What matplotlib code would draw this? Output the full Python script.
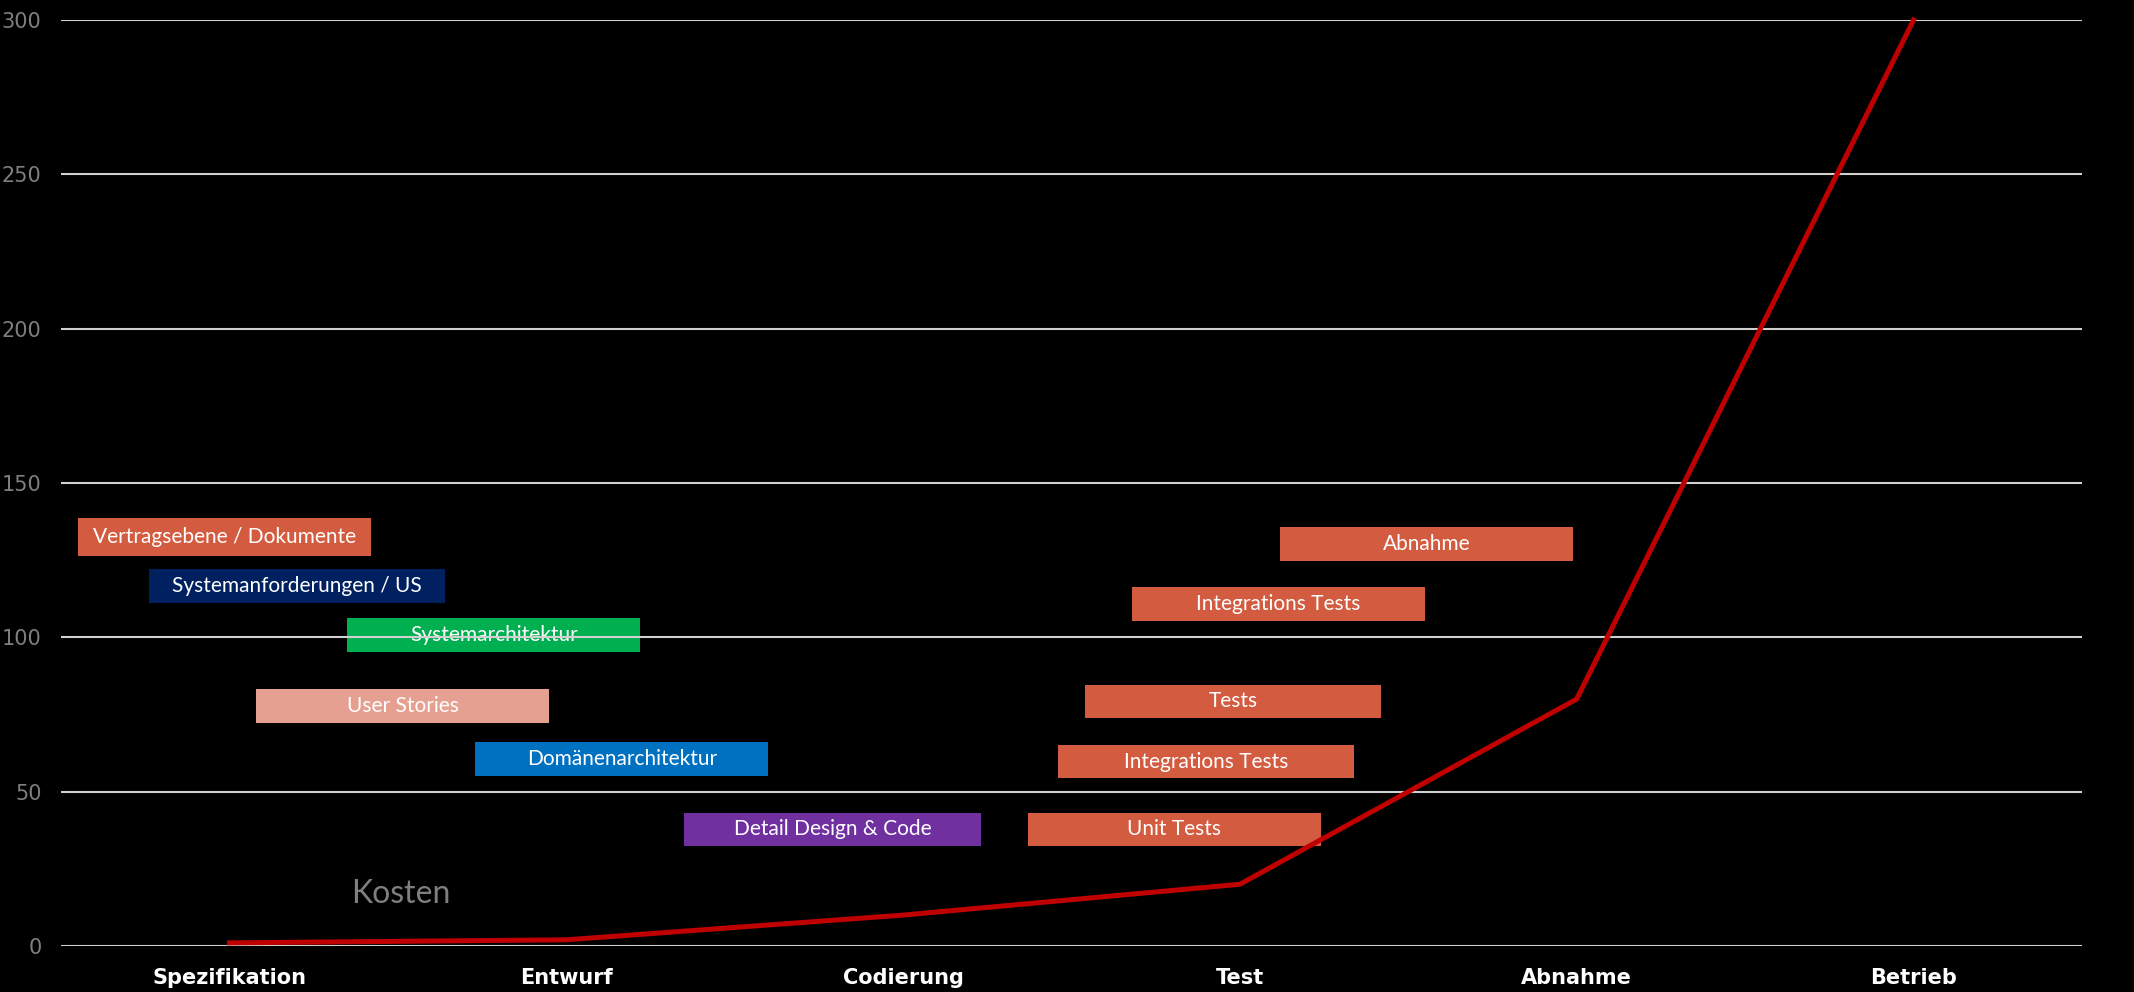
import matplotlib
matplotlib.use("Agg")
import matplotlib.pyplot as plt

# phases on the x axis and the cost curve
phases = ["Spezifikation", "Entwurf", "Codierung", "Test", "Abnahme", "Betrieb"]
kosten = [1, 2, 10, 20, 80, 300]
y_ticks = [0, 50, 100, 150, 200, 250, 300]

# activity boxes (x in phase units, y in cost units)
box_labels = ["Vertragsebene / Dokumente", "Systemanforderungen / US", "Systemarchitektur",
              "User Stories", "Domänenarchitektur", "Detail Design & Code",
              "Unit Tests", "Integrations Tests", "Tests", "Integrations Tests", "Abnahme"]
box_start = [-0.45, -0.24, 0.35, 0.08, 0.73, 1.35, 2.37, 2.46, 2.54, 2.68, 3.12]
box_end = [0.42, 0.64, 1.22, 0.95, 1.60, 2.23, 3.24, 3.34, 3.42, 3.55, 3.99]
box_low = [126.5, 111.0, 95.3, 72.3, 55.1, 32.3, 32.3, 54.3, 74.0, 105.3, 124.8]
box_high = [138.8, 122.0, 106.2, 83.3, 66.1, 43.2, 43.2, 65.2, 84.6, 116.3, 135.7]
box_colors = ["#D35B40", "#002060", "#00B050", "#E6A091", "#0070C0", "#7030A0",
              "#D35B40", "#D35B40", "#D35B40", "#D35B40", "#D35B40"]

fig = plt.figure(figsize=(21.34, 9.92), dpi=100, facecolor="black")
ax = fig.add_axes([0.0286, 0.0464, 0.947, 0.9334])
ax.set_facecolor("black")

x = list(range(len(phases)))

# boxes
widths = [e - s for s, e in zip(box_start, box_end)]
heights = [h - l for l, h in zip(box_low, box_high)]
ax.bar(box_start, heights, width=widths, bottom=box_low, align="edge",
       color=box_colors, zorder=1)
for lab, s, e, l, h in zip(box_labels, box_start, box_end, box_low, box_high):
    ax.text((s + e) / 2, (l + h) / 2, lab, ha="center", va="center",
            color="white", fontsize=15, family="Lato", zorder=1.5)

# cost curve
ax.plot(x, kosten, color="#C00000", linewidth=3.6, zorder=3, clip_on=False,
        solid_joinstyle="miter")
ax.text(0.51, 17, "Kosten", color="#7F7F7F", fontsize=23, family="Lato",
        ha="center", va="center")

ax.set_xlim(-0.5, 5.5)
ax.set_ylim(0, 300)
ax.set_yticks(y_ticks)
ax.set_xticks(x)
ax.set_xticklabels(phases, fontsize=15, fontweight="bold", color="white")
ax.set_yticklabels([str(v) for v in y_ticks], fontsize=15, color="#7F7F7F")
ax.tick_params(axis="both", length=0)
ax.tick_params(axis="y", pad=14)
ax.tick_params(axis="x", pad=16)

ax.set_axisbelow(False)
ax.grid(axis="y", color="#D0D0D0", linewidth=1.5, zorder=2.5)
ax.grid(axis="x", visible=False)
for sp in ax.spines.values():
    sp.set_visible(False)

fig.savefig("out.png", dpi=100, facecolor="black")
